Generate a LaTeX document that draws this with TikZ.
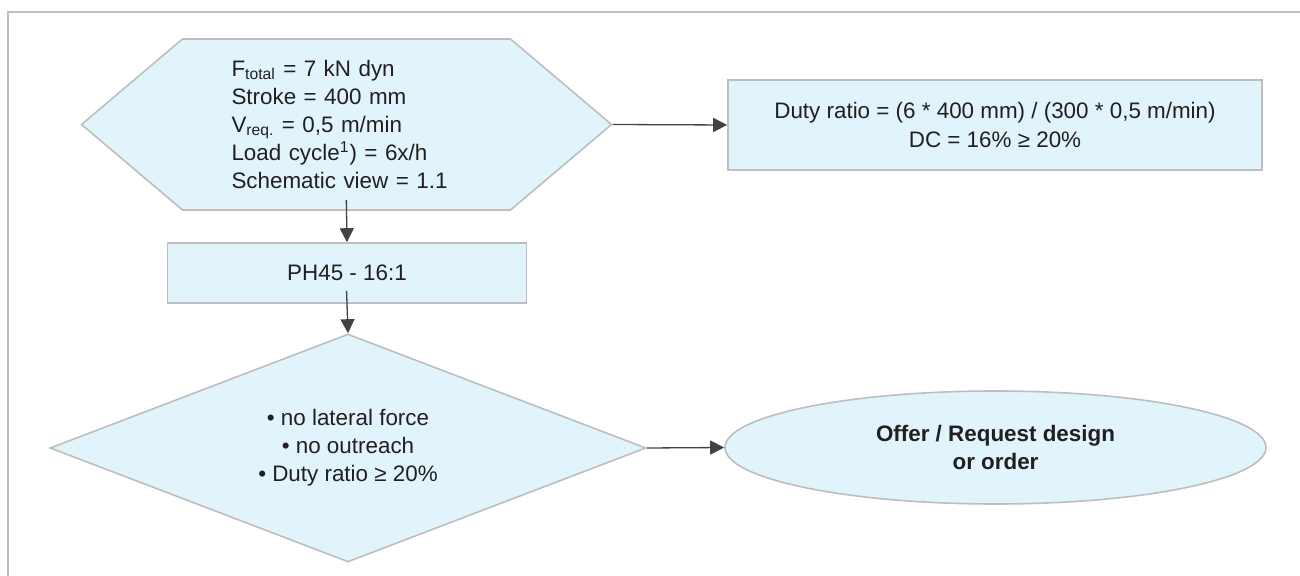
\documentclass[tikz,border=0pt]{standalone}
\usepackage{fontspec}
\setmainfont{Liberation Sans}
\usetikzlibrary{shapes,arrows.meta,positioning}
\definecolor{boxfill}{HTML}{E1F3FB}
\definecolor{boxline}{HTML}{BCBEC0}
\definecolor{ink}{HTML}{231F20}

\begin{document}
\begin{tikzpicture}[
			x=0.5pt, y=-0.5pt,
			every node/.style={font=\fontsize{11.2}{14.1}\selectfont, text=ink},
			block/.style={draw=boxline, line width=0.8pt, fill=boxfill, inner sep=0pt},
			arr/.style={draw=ink!85, line width=0.65pt, -{Triangle[length=7pt,width=7pt]}}
			]

			\useasboundingbox (0,0) rectangle (1300,576);

			% frame
			\draw[boxline, line width=0.8pt] (1300,12) -- (8,12) -- (8,576);

			\node[block, signal, signal to=west and east, signal pointer angle=80.5,
				minimum width=265pt, minimum height=85.5pt, text width=115pt, align=left] (input) at (346.5,124.5)
				{F\textsubscript{total} = 7 kN dyn\\
				Stroke = 400 mm\\
				V\textsubscript{req.} = 0,5 m/min\\
				Load cycle\textsuperscript{1}) = 6x/h\\
				Schematic view = 1.1};

			\node[block, minimum width=267pt, minimum height=45pt, align=center] (duty) at (995,125)
				{Duty ratio = (6 * 400 mm) / (300 * 0,5 m/min)\\
				DC = 16\% ≥ 20\%};

			\node[block, minimum width=179.5pt, minimum height=30pt] (ph) at (347,273) {PH45 - 16:1};

			\node[block, diamond, aspect=2.6, minimum width=298pt, minimum height=114pt, align=center] (check) at (348,448)
				{• no lateral force\\
				• no outreach\\
				• Duty ratio ≥ 20\%};

			\node[block, ellipse, minimum width=270.5pt, minimum height=56.5pt, align=center,
				font=\fontsize{11.2}{14.1}\selectfont\bfseries] (offer) at (995.5,447.5)
				{Offer / Request design\\
				or order};

			\draw[arr, shorten <=-5.5pt] (input.south) -- (ph.north);
			\draw[arr, shorten <=-6.5pt] (ph.south) -- (check.north);
			\draw[arr] (input.east) -- (duty.west);
			\draw[arr] (check.east) -- (offer.west);

		\end{tikzpicture}
\end{document}
